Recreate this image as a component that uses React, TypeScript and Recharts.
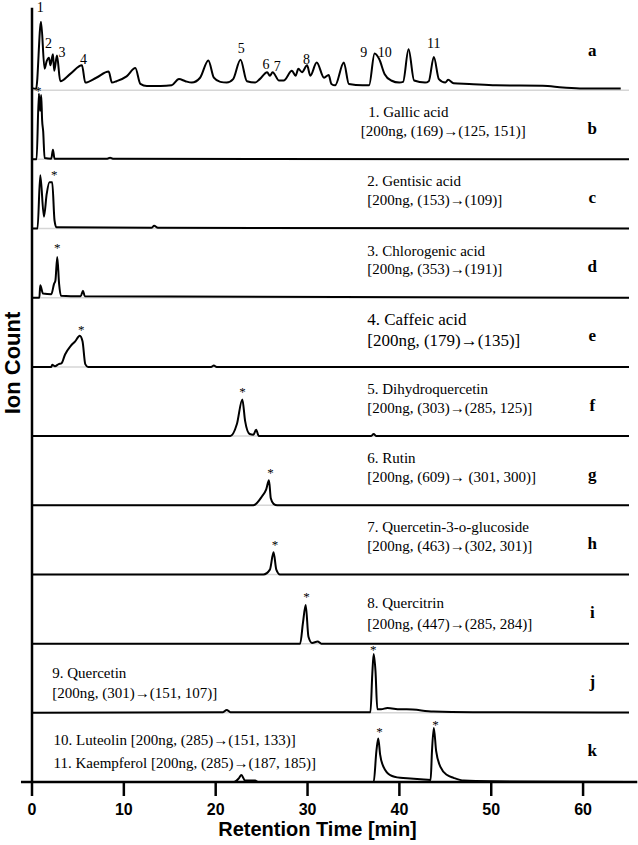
import { LineChart, Line, XAxis, YAxis, ReferenceLine, ReferenceDot } from 'recharts';

type Pt = [number, number];

const SERIF = '"Liberation Serif", "Times New Roman", serif';
const SANS = '"Liberation Sans", Arial, sans-serif';

const panelIds = ['a', 'b', 'c', 'd', 'e', 'f', 'g', 'h', 'i', 'j', 'k'];
const timeTicks = [0, 10, 20, 30, 40, 50, 60];

// a: standard mixture
const mixTrace: Pt[] = [
  [0, 0.03], [0.45, 0.02], [0.98, 0.99], [1.37, 0.31], [1.6, 0.42], [1.85, 0.47], [2.0, 0.36],
  [2.28, 0.52], [2.42, 0.28], [2.72, 0.5], [3.08, 0.13], [4.2, 0.24], [5.44, 0.36], [5.8, 0.11],
  [7.0, 0.18], [8.35, 0.27], [8.7, 0.11], [9.2, 0.13], [10.3, 0.2], [11.25, 0.32], [11.8, 0.09],
  [12.5, 0.06], [14.0, 0.06], [15.2, 0.07], [16.0, 0.16], [16.7, 0.13], [17.4, 0.11], [18.3, 0.18],
  [19.2, 0.43], [19.8, 0.18], [20.5, 0.12], [21.2, 0.11], [21.9, 0.16], [22.7, 0.44], [23.4, 0.13],
  [24.3, 0.11], [24.8, 0.16], [25.6, 0.26], [25.9, 0.21], [26.2, 0.26], [26.9, 0.14], [27.4, 0.14],
  [28.3, 0.28], [28.7, 0.21], [29.0, 0.31], [29.4, 0.26], [29.95, 0.36], [30.3, 0.21], [31.0, 0.4],
  [31.8, 0.18], [32.3, 0.22], [32.6, 0.09], [33.0, 0.07], [33.95, 0.4], [34.5, 0.09], [36.0, 0.07],
  [36.7, 0.07], [37.3, 0.53], [37.8, 0.45], [38.4, 0.23], [39.1, 0.14], [40.0, 0.11], [40.4, 0.12],
  [41.0, 0.59], [41.6, 0.14], [42.8, 0.11], [43.2, 0.13], [43.75, 0.48], [44.3, 0.16], [45.0, 0.11],
  [45.3, 0.15], [45.9, 0.1], [47.6, 0.09], [50.5, 0.07], [55.6, 0.065], [57.8, 0.04], [60, 0.025],
  [64.1, 0.025],
];
const gallicTrace: Pt[] = [
  [0, 0], [0.5, 0], [0.75, 0.95], [0.88, 0.7], [1.0, 0.93], [1.1, 0.57], [1.22, 0.4], [1.37, 0.02],
  [2.1, 0.01], [2.28, 0.14], [2.45, 0.01], [8.2, 0.01], [8.5, 0.025], [8.8, 0.01], [65, 0],
];
const gentisicTrace: Pt[] = [
  [0, 0], [0.6, 0], [0.9, 0.77], [1.3, 0.17], [1.6, 0.5], [1.9, 0.67], [2.2, 0.67], [2.45, 0.12],
  [2.65, 0.02], [13.0, 0.01], [13.3, 0.04], [13.7, 0.01], [65, 0],
];
const chlorogenicTrace: Pt[] = [
  [0, 0], [0.8, 0], [0.9, 0.18], [1.2, 0.06], [2.1, 0.05], [2.4, 0.2], [2.55, 0.25], [2.75, 0.59],
  [2.95, 0.2], [3.15, 0.03], [5.3, 0.02], [5.55, 0.1], [5.75, 0.02], [65, 0],
];
const caffeicTrace: Pt[] = [
  [0, 0], [2.1, 0], [2.2, 0.03], [2.5, 0.01], [2.9, 0.04], [3.2, 0.05], [3.6, 0.18], [4.2, 0.3],
  [4.7, 0.37], [5.2, 0.45], [5.5, 0.37], [5.8, 0.04], [6.1, 0], [19.5, 0], [19.8, 0.02], [20.1, 0],
  [65, 0],
];
const dihydroTrace: Pt[] = [
  [0, 0], [21.6, 0], [22.3, 0.17], [22.9, 0.53], [23.2, 0.22], [23.7, 0.03], [24.1, 0.02],
  [24.4, 0.09], [24.7, 0], [36.9, 0], [37.2, 0.03], [37.5, 0], [65, 0],
];
const rutinTrace: Pt[] = [
  [0, 0], [24.1, 0], [25.05, 0.13], [25.5, 0.23], [25.8, 0.36], [26.0, 0.1], [26.3, 0.02],
  [26.7, 0], [65, 0],
];
const glucosideTrace: Pt[] = [
  [0, 0], [25.2, 0], [25.9, 0.07], [26.3, 0.32], [26.6, 0.07], [27.0, 0], [65, 0],
];
const quercitrinTrace: Pt[] = [
  [0, 0], [29.2, 0], [29.5, 0.3], [29.8, 0.56], [30.1, 0.1], [30.5, 0.01], [31.1, 0.03],
  [31.5, 0], [65, 0],
];
const quercetinTrace: Pt[] = [
  [0, 0], [20.8, 0.01], [21.2, 0.04], [21.6, 0.01], [36.85, 0.01], [37.05, 0.56], [37.2, 0.85],
  [37.4, 0.6], [37.6, 0.05], [38.0, 0.05], [38.7, 0.07], [40.1, 0.05], [40.8, 0.05], [43.7, 0.02],
  [48, 0.01], [65, 0.005],
];
const luteolinKaempferolTrace: Pt[] = [
  [0, 0], [22.0, 0], [22.5, 0.05], [22.8, 0.1], [23.2, 0.02], [24.3, 0.02], [24.6, 0], [37.2, 0],
  [37.5, 0.45], [37.7, 0.63], [37.9, 0.4], [38.3, 0.21], [39.0, 0.1], [40.1, 0.06], [41.2, 0.05],
  [42.3, 0.04], [43.4, 0.03], [43.55, 0.45], [43.75, 0.78], [44.0, 0.45], [44.5, 0.21], [45.2, 0.1],
  [45.9, 0.06], [47, 0.02], [50, 0.01], [65, 0],
];

const traces = [
  mixTrace, gallicTrace, gentisicTrace, chlorogenicTrace, caffeicTrace, dihydroTrace,
  rutinTrace, glucosideTrace, quercitrinTrace, quercetinTrace, luteolinKaempferolTrace,
];

// numbered peaks in the mixture trace (time, label height within panel)
const mixPeakNames = ['1', '2', '3', '4', '5', '6', '7', '8', '9', '10', '11'];
const mixPeakTimes = [0.9, 1.81, 3.27, 5.62, 22.77, 25.49, 26.69, 29.88, 36.12, 38.41, 43.75];
const mixPeakHeights = [1.19, 0.68, 0.55, 0.44, 0.61, 0.38, 0.35, 0.44, 0.55, 0.55, 0.68];

// target peaks marked with *
const starPanels = [1, 2, 3, 4, 5, 6, 7, 8, 9, 10, 10];
const starTimes = [0.69, 2.43, 2.76, 5.37, 22.91, 25.96, 26.47, 29.88, 37.15, 37.83, 43.93];
const starHeights = [1.02, 0.81, 0.75, 0.56, 0.67, 0.5, 0.46, 0.7, 0.94, 0.75, 0.86];

const compoundNames = [
  '1. Gallic acid', '2. Gentisic acid', '3. Chlorogenic acid', '4. Caffeic acid',
  '5. Dihydroquercetin', '6. Rutin', '7. Quercetin-3-o-glucoside', '8. Quercitrin', '9. Quercetin',
];
const transitions = [
  '[200ng, (169)→(125, 151)]', '[200ng, (153)→(109)]', '[200ng, (353)→(191)]',
  '[200ng, (179)→(135)]', '[200ng, (303)→(285, 125)]', '[200ng, (609)→ (301, 300)]',
  '[200ng, (463)→(302, 301)]', '[200ng, (447)→(285, 284)]', '[200ng, (301)→(151, 107)]',
];
const lastPanelNotes = [
  '10. Luteolin [200ng, (285)→(151, 133)]',
  '11. Kaempferol [200ng, (285)→(187, 185)]',
];

const level = (panel: number, v: number) => 10 - panel + v;

function Note({ viewBox, text, size = 15, weight = 'normal', anchor = 'start', family = SERIF, dy = '0.33em' }: any) {
  if (!viewBox) return null;
  return (
    <text x={viewBox.x} y={viewBox.y} dy={dy} textAnchor={anchor} fontSize={size}
      fontWeight={weight} fontFamily={family} fill="#000">
      {text}
    </text>
  );
}

function XTitle({ viewBox }: any) {
  if (!viewBox) return null;
  return (
    <text x={viewBox.x + viewBox.width / 2 - 13} y={viewBox.y + 54} textAnchor="middle"
      fontSize={20} fontWeight="bold" fontFamily={SANS} fill="#000">
      Retention Time [min]
    </text>
  );
}

function YTitle({ viewBox }: any) {
  if (!viewBox) return null;
  const cx = 20;
  const cy = 363;
  return (
    <text x={cx} y={cy} transform={`rotate(-90 ${cx} ${cy})`} textAnchor="middle"
      fontSize={22} fontWeight="bold" fontFamily={SANS} fill="#000">
      Ion Count
    </text>
  );
}

function noteLayout(p: number) {
  // [title t, title v, transition t, transition v, font size]
  if (p === 1) return [36.6, 0.68, 35.8, 0.41, 15];
  if (p === 4) return [36.5, 0.68, 36.5, 0.39, 17];
  if (p === 8) return [36.5, 0.58, 36.5, 0.29, 15];
  if (p === 9) return [2.2, 0.58, 2.2, 0.28, 15];
  return [36.5, 0.68, 36.5, 0.41, 15];
}

export default function App() {
  return (
    <div style={{ position: 'absolute', left: 0, top: 0, width: 638, height: 845, background: '#fff' }}>
      <LineChart width={638} height={845} margin={{ top: 21, right: 9, left: 0, bottom: 13 }}>
        <XAxis
          dataKey="t" type="number" domain={[0, 65]} ticks={timeTicks} height={50}
          axisLine={false} tickLine={{ stroke: '#000', strokeWidth: 2.5 }} tickSize={14} tickMargin={8}
          tick={{ fill: '#000', fontSize: 16, fontWeight: 'bold', fontFamily: SANS }}
          label={<XTitle />}
        />
        <YAxis type="number" domain={[0, 11]} width={32} tick={false} tickLine={false} axisLine={false}
          label={<YTitle />} />

        {panelIds.slice(1).map((id, i) => (
          <ReferenceLine key={`sep-${id}`} y={i + 1} stroke="#d6d6d6" strokeWidth={1.5} />
        ))}

        {traces.map((tr, i) => (
          <Line key={panelIds[i]} data={tr.map(([t, v]) => ({ t, y: level(i, v) }))} dataKey="y"
            type="monotone" stroke="#000" strokeWidth={2} dot={false} isAnimationActive={false} />
        ))}

        <ReferenceLine segment={[{ x: -1.2, y: 0 }, { x: 65.9, y: 0 }]} stroke="#000" strokeWidth={2.5} ifOverflow="visible" />
        <ReferenceLine segment={[{ x: 0, y: 0 }, { x: 0, y: 11.19 }]} stroke="#000" strokeWidth={2.5} ifOverflow="visible" />

        {mixPeakNames.map((name, i) => (
          <ReferenceDot key={`pk-${name}`} x={mixPeakTimes[i]} y={level(0, mixPeakHeights[i])} r={0}
            fill="none" stroke="none" ifOverflow="visible"
            label={<Note text={name} size={14} anchor="middle" />} />
        ))}

        {starTimes.map((t, i) => (
          <ReferenceDot key={`star-${i}`} x={t} y={level(starPanels[i], starHeights[i])} r={0}
            fill="none" stroke="none" ifOverflow="visible"
            label={<Note text="*" size={13} anchor="middle" dy={6} />} />
        ))}

        {compoundNames.map((name, i) => {
          const p = i + 1;
          const [t1, v1, t2, v2, size] = noteLayout(p);
          return [
            <ReferenceDot key={`nm-${p}`} x={t1} y={level(p, v1)} r={0} fill="none" stroke="none"
              ifOverflow="visible" label={<Note text={name} size={size} />} />,
            <ReferenceDot key={`tr-${p}`} x={t2} y={level(p, v2)} r={0} fill="none" stroke="none"
              ifOverflow="visible" label={<Note text={transitions[i]} size={size} />} />,
          ];
        })}

        {lastPanelNotes.map((text, i) => (
          <ReferenceDot key={`k-${i}`} x={2.35} y={level(10, i === 0 ? 0.6 : 0.28)} r={0}
            fill="none" stroke="none" ifOverflow="visible" label={<Note text={text} size={15} />} />
        ))}

        {panelIds.map((id, i) => (
          <ReferenceDot key={`id-${id}`} x={61} y={level(i, i === 0 ? 0.58 : 0.45)} r={0}
            fill="none" stroke="none" ifOverflow="visible"
            label={<Note text={id} size={17} weight="bold" anchor="middle" />} />
        ))}
      </LineChart>
    </div>
  );
}
